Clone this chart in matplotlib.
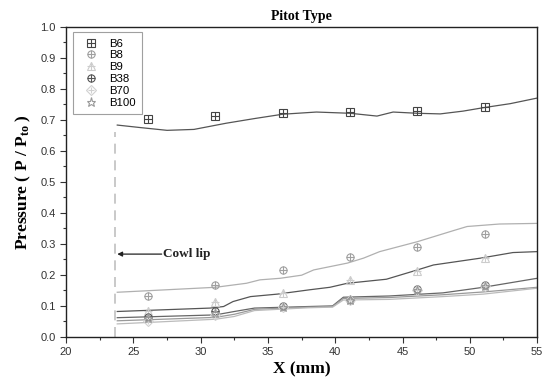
import matplotlib
matplotlib.use("Agg")
import matplotlib.pyplot as plt
from matplotlib.legend_handler import HandlerTuple

plt.rcParams['font.family'] = ['Liberation Sans', 'DejaVu Sans']
plt.rcParams['mathtext.fontset'] = 'custom'
plt.rcParams['mathtext.rm'] = 'Liberation Serif:bold'
plt.rcParams['mathtext.it'] = 'Liberation Serif:bold'
plt.rcParams['mathtext.bf'] = 'Liberation Serif:bold'

# ---- experimental points ----
x_exp = [26.1, 31.1, 36.1, 41.1, 46.1, 51.1]
B6 = [0.702, 0.711, 0.721, 0.724, 0.728, 0.741]
B8 = [0.132, 0.167, 0.216, 0.259, 0.291, 0.332]
B9 = [0.084, 0.114, 0.140, 0.184, 0.214, 0.255]
B38 = [0.064, 0.083, 0.100, 0.120, 0.154, 0.167]
B70 = [0.052, 0.072, 0.097, 0.118, 0.150, 0.164]
B100 = [0.060, 0.078, 0.098, 0.119, 0.152, 0.165]

# ---- curves ----
c6_x = [23.8, 25.5, 27.5, 29.5, 31.9, 34.0, 36.1, 38.6, 41.1, 43.1, 44.3, 46.1, 47.8, 49.5, 51.0, 53.0, 55.0]
c6_y = [0.683, 0.675, 0.666, 0.669, 0.689, 0.704, 0.718, 0.725, 0.721, 0.712, 0.725, 0.721, 0.719, 0.728, 0.739, 0.752, 0.770]

c8_x = [23.8, 31.1, 33.4, 34.4, 35.9, 37.5, 38.4, 40.9, 42.1, 43.3, 46.1, 48.8, 49.8, 52.2, 55.0]
c8_y = [0.144, 0.160, 0.173, 0.184, 0.189, 0.199, 0.216, 0.238, 0.254, 0.275, 0.307, 0.343, 0.356, 0.364, 0.366]

c9_x = [23.8, 30.7, 31.7, 32.4, 33.7, 35.7, 38.1, 39.6, 40.9, 43.8, 46.1, 47.3, 50.8, 53.2, 55.0]
c9_y = [0.082, 0.093, 0.098, 0.114, 0.130, 0.138, 0.152, 0.160, 0.173, 0.186, 0.216, 0.232, 0.254, 0.272, 0.275]

cb_x = [23.8, 31.1, 32.5, 34.0, 38.0, 39.8, 40.6, 44.0, 48.0, 51.0, 55.0]
c38_y = [0.062, 0.071, 0.082, 0.093, 0.098, 0.100, 0.128, 0.132, 0.142, 0.160, 0.189]
c100_y = [0.052, 0.063, 0.073, 0.089, 0.096, 0.098, 0.124, 0.127, 0.136, 0.145, 0.160]
c70_y = [0.042, 0.057, 0.066, 0.085, 0.094, 0.096, 0.119, 0.121, 0.130, 0.138, 0.157]

labels = ['B6', 'B8', 'B9', 'B38', 'B70', 'B100']

fig = plt.figure(figsize=(5.42, 3.82), dpi=100)
ax = fig.add_axes([0.122, 0.118, 0.869, 0.812])

# curves
ax.plot(c6_x, c6_y, color='#555555', lw=0.9)
ax.plot(c8_x, c8_y, color='#b0b0b0', lw=0.9)
ax.plot(c9_x, c9_y, color='#555555', lw=0.9)
ax.plot(cb_x, c38_y, color='#666666', lw=0.9)
ax.plot(cb_x, c100_y, color='#999999', lw=0.9)
ax.plot(cb_x, c70_y, color='#bbbbbb', lw=0.9)

ms = 5.2
def pts(y, marker, color, ms=ms, plus=True):
    h1, = ax.plot(x_exp, y, ls='none', marker=marker, mfc='none', mec=color, ms=ms, mew=0.8)
    hs = [h1]
    if plus:
        h2, = ax.plot(x_exp, y, ls='none', marker='+', mec=color, ms=ms, mew=0.8)
        hs.append(h2)
    return tuple(hs)

handles = [
    pts(B6, 's', '#444444'),
    pts(B8, 'o', '#a0a0a0'),
    pts(B9, '^', '#cccccc'),
    pts(B38, 'o', '#555555'),
    pts(B70, 'D', '#d0d0d0', ms=4.6),
    pts(B100, '*', '#9a9a9a', ms=6.5, plus=False),
]

# cowl lip
ax.plot([23.65, 23.65], [0.0, 0.66], color='#c0c0c0', lw=1.2, ls=(0, (6, 4)))
ax.annotate('', xy=(23.8, 0.267), xytext=(27.1, 0.267),
            arrowprops=dict(arrowstyle='-|>', color='#222222', lw=0.9,
                            mutation_scale=7, shrinkA=0, shrinkB=0))
ax.text(27.2, 0.267, 'Cowl lip', fontsize=9.5, fontweight='bold',
        family='Liberation Serif', va='center', ha='left', color='#222222')

ax.set_xlim(20, 55)
ax.set_ylim(0, 1.0)
ax.set_xticks([20, 25, 30, 35, 40, 45, 50, 55])
ax.set_xticks([22.5, 27.5, 32.5, 37.5, 42.5, 47.5, 52.5], minor=True)
ax.set_yticks([i / 10 for i in range(11)])
ax.set_yticks([0.05 + i / 10 for i in range(10)], minor=True)
ax.set_yticklabels([f'{i/10:.1f}' for i in range(11)])
ax.tick_params(axis='both', which='major', direction='out', length=4, width=0.8,
               labelsize=8, labelcolor='#333333', color='#333333', top=False, right=False)
ax.tick_params(axis='both', which='minor', direction='out', length=2.5, width=0.8,
               color='#333333', top=False, right=False)
for s in ax.spines.values():
    s.set_color('#222222')
    s.set_linewidth(1.0)

ax.set_xlabel('X (mm)', fontsize=12.5, fontweight='bold', family='Liberation Serif', labelpad=3)
ax.set_ylabel(r'Pressure ( P / P$_{\rm to}$ )', fontsize=12.5, fontweight='bold',
              family='Liberation Serif', labelpad=5)
ax.set_title('Pitot Type', fontsize=10, fontweight='bold', family='Liberation Serif', pad=5)

leg = ax.legend(handles, labels, handler_map={tuple: HandlerTuple(ndivide=1)},
                loc='upper left', bbox_to_anchor=(0.015, 0.982), borderaxespad=0,
                fontsize=8.2, frameon=True, fancybox=False, edgecolor='#888888',
                handlelength=2.0, handletextpad=0.6, labelspacing=0.16, borderpad=0.55,
                numpoints=1)
leg.get_frame().set_linewidth(0.8)

fig.savefig('out.png', dpi=100)
